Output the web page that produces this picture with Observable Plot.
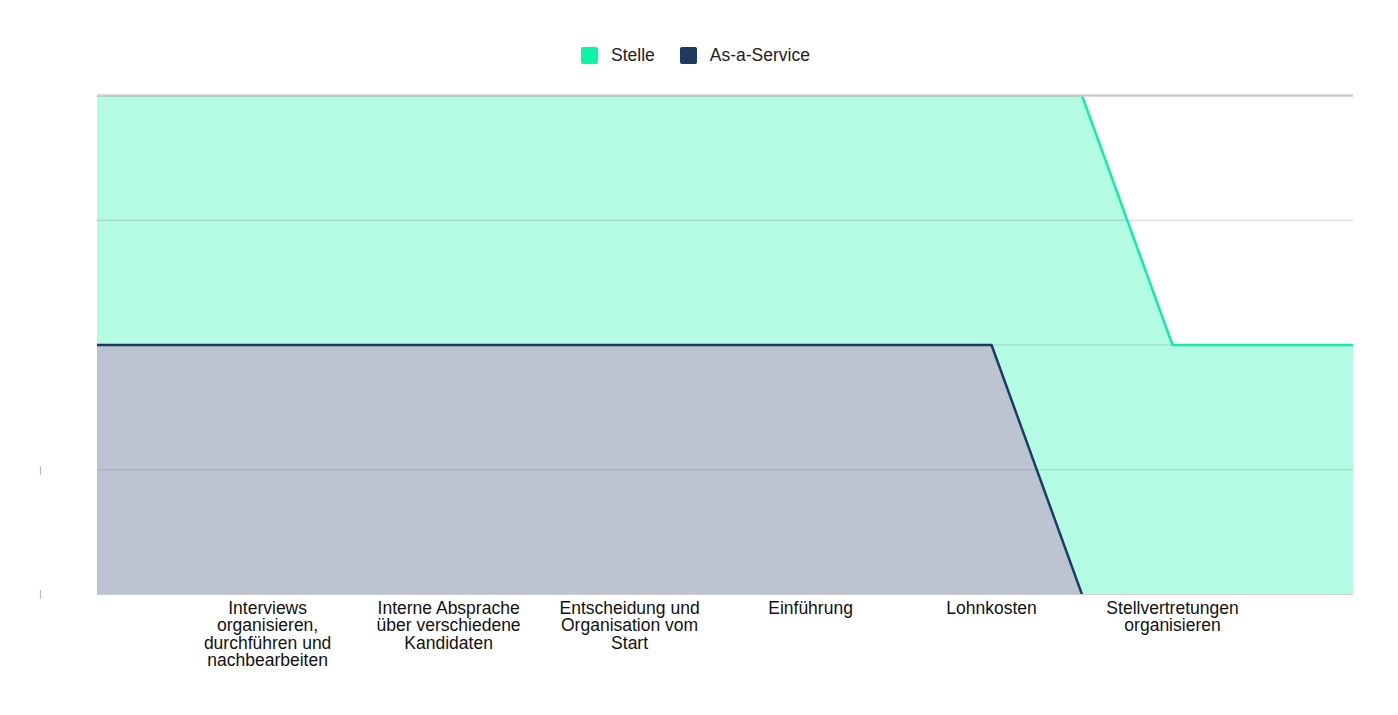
<!DOCTYPE html>
<html>
<head>
<meta charset="utf-8">
<script src="https://cdn.jsdelivr.net/npm/d3@7"></script>
<script src="https://cdn.jsdelivr.net/npm/@observablehq/plot@0.6"></script>
<style>
  body { margin: 0; background: #fff; font-family: "Liberation Sans", Arial, sans-serif; }
  #legend { height: 80px; position: relative; }
  #legend .inner { position: absolute; left: 581px; top: 45px; display: flex; gap: 25px; font-size: 17.5px; color: #222; }
  #legend .item { display: flex; align-items: center; gap: 13px; }
  #legend .sw { width: 17px; height: 17px; border-radius: 2px; display: inline-block; }
</style>
</head>
<body>
<div id="legend"></div>
<div id="chart"></div>
<script>
// Categories (x-axis labels) at positions 1..6
const categories = [
  "Interviews\norganisieren,\ndurchführen und\nnachbearbeiten",
  "Interne Absprache\nüber verschiedene\nKandidaten",
  "Entscheidung und\nOrganisation vom\nStart",
  "Einführung",
  "Lohnkosten",
  "Stellvertretungen\norganisieren"
];
const categoryPositions = [1, 2, 3, 4, 5, 6];

// Series points (x position, value)
const positions  = [0, 1, 2, 3, 4, 5, 5.5, 6, 7];
const stelle     = [4, 4, 4, 4, 4, 4, 4,   2, 2];
const asAService = [2, 2, 2, 2, 2, 2, 0,   null, null];

const seriesNames = ["Stelle", "As-a-Service"];
const lineColors = ["#12eca4", "#1e3a5f"];
const swatchColors = ["#0df5a8", "#1e3a5f"];
const fillColors = ["#b3fce3", "#bcc3d1"];

const stelleData = positions.map((x, i) => ({x, y: stelle[i]}));
const aasData = positions.map((x, i) => ({x, y: asAService[i]})).filter(d => d.y !== null);

// legend
const leg = document.createElement("div");
leg.className = "inner";
seriesNames.forEach((n, i) => {
  const it = document.createElement("span");
  it.className = "item";
  it.innerHTML = `<span class="sw" style="background:${swatchColors[i]}"></span><span>${n}</span>`;
  leg.appendChild(it);
});
document.getElementById("legend").appendChild(leg);

const plot = Plot.plot({
  width: 1398,
  height: 634,
  marginLeft: 97,
  marginRight: 45,
  marginTop: 15,
  marginBottom: 120,
  style: {fontFamily: "'Liberation Sans', Arial, sans-serif", fontSize: "17.5px", color: "#111"},
  x: {domain: [0.06, 7]},
  y: {domain: [0, 4]},
  marks: [
    Plot.areaY(stelleData, {x: "x", y: "y", fill: fillColors[0], clip: true}),
    Plot.areaY(aasData, {x: "x", y: "y", fill: fillColors[1], clip: true}),
    Plot.ruleY([0, 1, 2, 3], {stroke: "#7a7a7a", strokeOpacity: 0.35, strokeWidth: 1.2}),
    Plot.lineY(stelleData, {x: "x", y: "y", stroke: lineColors[0], strokeWidth: 2.5, clip: true}),
    Plot.lineY(aasData, {x: "x", y: "y", stroke: lineColors[1], strokeWidth: 2.5, clip: true}),
    Plot.ruleY([4], {stroke: "#cccccc", strokeWidth: 2.6}),
    Plot.axisX({
      ticks: categoryPositions,
      tickFormat: (d) => categories[categoryPositions.indexOf(d)],
      tickSize: 0,
      tickPadding: 7,
      lineHeight: 1,
      fontSize: 17.5,
      fill: "#111",
      label: null
    }),
    Plot.axisY({
      ticks: [0, 1],
      tickFormat: () => "|",
      tickSize: 0,
      tickPadding: 56,
      fontSize: 9,
      fill: "#999",
      label: null
    })
  ]
});
document.getElementById("chart").appendChild(plot);
</script>
</body>
</html>
